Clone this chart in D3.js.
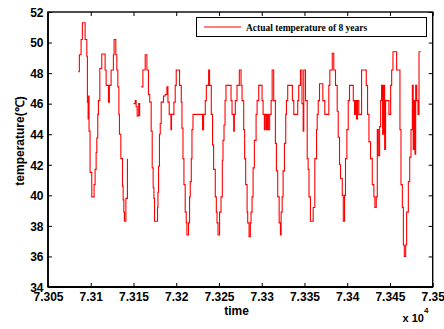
<!DOCTYPE html>
<html>
<head>
<meta charset="utf-8">
<script src="https://cdn.jsdelivr.net/npm/d3@7"></script>
<style>
  html, body { margin:0; padding:0; background:#fff; }
  svg { display:block; }
</style>
</head>
<body>
<div id="chart"></div>
<script>
// temperature series, x in raw units (axis shows x 10^4), null = missing
const TIME = [
  73085.5,73086.7,73088.7,73090.2,73093.4,73095.4,73096.1,73096.9,73097.5,73098.0,
  73099.2,73101.2,73103.9,73105.1,73106.3,73107.1,73108.2,73109.0,73110.6,73112.9,
  73116.8,73118.0,73120.7,73121.8,73123.8,73126.5,73127.3,73129.3,73130.5,73131.7,
  73132.9,73133.6,73135.2,73137.1,73137.9,73138.7,73139.4,73141.1,73142.9,73145.0,
  73150.0,73152.0,73153.1,73154.3,73156.1,73157.2,73158.0,
  73159.0,73161.0,73163.7,73165.7,73167.5,73169.0,73170.7,73171.9,73173.0,73173.9,
  73174.6,73178.1,73178.6,73179.3,73180.4,73181.3,73182.4,73185.1,73187.1,73189.1,
  73190.3,73191.8,73193.8,73194.5,73197.3,73198.8,73200.0,73203.9,73205.9,73206.7,
  73207.9,73209.0,73210.5,73211.7,73212.5,73214.4,73215.6,73216.4,73217.6,73218.4,
  73219.6,73230.8,73232.0,73234.0,73235.2,73237.9,73239.0,73241.0,73242.5,73243.7,
  73245.7,73246.9,73247.7,73248.9,73250.7,73252.4,73253.9,73254.7,73255.9,73257.1,
  73258.2,73264.1,73265.3,73267.2,73268.0,73269.1,73271.1,73273.8,73275.8,73277.0,
  73278.9,73280.0,73281.2,73282.9,73283.6,73285.2,73286.7,73287.5,73288.7,73289.9,
  73291.4,73293.4,73294.6,73296.5,73300.4,73301.6,73303.1,73304.0,73305.5,73306.6,
  73307.8,73309.3,73311.0,73312.2,73314.0,73316.0,73317.2,73318.7,73320.4,73321.9,
  73322.7,73323.9,73325.0,73326.6,73328.1,73328.9,73330.4,73335.9,73337.5,73342.1,
  73343.3,73345.3,73347.1,73348.5,73349.2,73351.2,73353.2,73354.3,73355.3,73357.0,
  73360.2,73362.1,73364.1,73364.9,73366.1,73367.6,73371.5,73373.8,73378.5,73379.7,
  73382.5,73384.3,73386.3,73388.3,73389.5,73391.0,73392.2,73394.2,73395.4,73396.9,
  73398.0,73399.6,73401.2,73402.7,73407.1,73408.6,73409.8,73410.9,73412.1,73413.6,
  73416.8,73422.3,73423.8,73425.4,73427.3,73429.3,73431.2,73432.4,73434.0,73435.2,
  73436.4,73437.9,73439.1,73440.2,73441.4,73442.6,73443.8,73444.9,73446.9,73448.8,
  73450.8,73452.0,73453.5,73457.8,73461.7,73462.9,73464.5,73465.7,73466.8,73468.4,
  73469.5,73471.5,73473.1,73474.6,73476.2,73477.2,73478.3,73479.3,73480.1,73481.3,
  73482.8,73484.0,73485.9
];
const TEMP = [
  48.1,49.2,50.2,51.3,50.2,49.1,46.1,45.0,46.5,44.2,
  41.5,39.9,40.7,41.7,42.8,43.75,45.3,46.2,48.3,49.25,
  48.2,47.2,46.1,47.2,48.2,49.2,50.2,49.2,48.2,47.1,
  45.3,44.0,42.4,40.6,39.7,38.9,38.3,39.8,42.4,null,
  46.0,46.2,45.8,45.2,46.0,45.2,null,
  47.1,48.2,49.2,48.2,46.6,46.1,44.2,41.8,40.5,39.8,
  38.3,39.2,40.2,41.9,44.0,44.7,46.1,46.5,46.6,47.1,
  46.1,45.3,44.3,45.3,46.1,47.2,48.2,47.2,46.1,44.4,
  42.4,40.7,38.9,38.2,37.4,38.2,39.9,40.9,42.4,44.3,
  45.3,44.3,45.3,46.2,47.2,48.2,47.2,45.3,43.3,41.7,
  39.9,38.9,38.2,37.4,38.9,39.9,42.3,43.6,44.6,46.2,
  47.2,46.2,45.3,44.2,45.3,46.2,47.2,48.2,47.2,46.2,
  44.3,42.4,40.7,38.9,38.2,37.3,38.2,38.9,39.9,41.8,
  43.6,45.3,46.2,47.2,46.2,45.3,44.3,45.3,44.3,45.3,
  44.3,45.3,46.2,48.2,46.2,43.4,41.6,39.9,38.2,37.4,
  38.9,39.9,41.6,43.4,45.3,46.2,47.2,46.2,45.3,46.2,
  47.2,48.2,46.0,44.2,48.2,46.2,42.4,41.7,39.9,38.3,
  39.2,42.4,44.3,45.3,46.2,47.3,46.2,45.3,47.2,48.2,
  49.3,48.2,47.2,45.5,43.8,42.0,41.1,40.0,38.3,40.0,
  42.4,44.3,46.2,47.2,46.2,45.3,46.2,45.0,46.2,45.3,
  48.2,47.2,45.3,43.5,42.4,40.7,39.9,39.2,39.9,44.3,
  42.6,44.5,46.2,47.2,44.0,47.2,43.0,46.2,46.2,45.3,
  47.2,48.2,49.4,48.2,44.3,40.7,39.2,36.75,36.0,36.75,
  38.9,40.9,42.5,44.3,47.2,43.0,46.2,42.7,47.2,46.2,
  45.3,49.4,49.4
];
const X_TICKS = [73050,73100,73150,73200,73250,73300,73350,73400,73450,73500];
const Y_TICKS = [34,36,38,40,42,44,46,48,50,52];
const LEGEND_LABEL = "Actual temperature of 8 years";

const W = 444, H = 329;
const margin = { top: 12, right: 11.3, bottom: 42, left: 48 };
const iw = W - margin.left - margin.right;
const ih = H - margin.top - margin.bottom;

const svg = d3.select("#chart").append("svg")
  .attr("width", W).attr("height", H);

const g = svg.append("g").attr("transform", `translate(${margin.left},${margin.top})`);

const x = d3.scaleLinear().domain([73050, 73500]).range([0, iw]);
const y = d3.scaleLinear().domain([34, 52]).range([ih, 0]);

const FONT = "Arial, 'Liberation Sans', Helvetica, sans-serif";

const series = TIME.map((t, i) => ({ t, v: TEMP[i] }));

// data line
g.append("path")
  .datum(series)
  .attr("fill", "none")
  .attr("stroke", "#ff0000")
  .attr("stroke-width", 1.1)
  .attr("d", d3.line()
    .defined(d => d.v !== null)
    .x(d => x(d.t)).y(d => y(d.v))
    .curve(d3.curveStepAfter));

const fmtX = d => d3.format(".4~f")(d / 1e4);

const styleAxis = sel => sel
  .call(a => a.select(".domain").remove())
  .call(a => a.selectAll("line").attr("stroke", "#000").attr("stroke-width", 1))
  .call(a => a.selectAll("text").attr("fill", "#000")
    .style("font-family", FONT).style("font-size", "12px").style("font-weight", "bold"));

// bottom + left with labels, ticks inward
g.append("g").attr("transform", `translate(0,${ih})`)
  .call(d3.axisBottom(x).tickValues(X_TICKS).tickFormat(fmtX).tickSizeInner(-4).tickSizeOuter(0).tickPadding(5))
  .call(styleAxis);

g.append("g")
  .call(d3.axisLeft(y).tickValues(Y_TICKS).tickFormat(d3.format("d")).tickSizeInner(-4).tickSizeOuter(0).tickPadding(4.5))
  .call(styleAxis)
  .call(a => a.selectAll("text").attr("dy", "0.36em"));

// top + right ticks only
g.append("g")
  .call(d3.axisTop(x).tickValues(X_TICKS).tickFormat("").tickSizeInner(-4).tickSizeOuter(0))
  .call(styleAxis);
g.append("g").attr("transform", `translate(${iw},0)`)
  .call(d3.axisRight(y).tickValues(Y_TICKS).tickFormat("").tickSizeInner(-4).tickSizeOuter(0))
  .call(styleAxis);

// frame
g.append("rect").attr("width", iw).attr("height", ih)
  .attr("fill", "none").attr("stroke", "#000").attr("stroke-width", 1.4);
g.append("line").attr("x1", 0).attr("x2", iw).attr("y1", ih).attr("y2", ih)
  .attr("stroke", "#000").attr("stroke-width", 2);
g.append("line").attr("x1", 0).attr("x2", 0).attr("y1", 0).attr("y2", ih)
  .attr("stroke", "#000").attr("stroke-width", 1.6);

// axis titles
svg.append("text").attr("x", 236.5).attr("y", 315)
  .attr("text-anchor", "middle").attr("fill", "#000")
  .style("font-family", FONT).style("font-size", "12px").style("font-weight", "bold")
  .text("time");

svg.append("text")
  .attr("transform", "translate(24,141) rotate(-90)")
  .attr("text-anchor", "middle").attr("fill", "#000")
  .style("font-family", FONT).style("font-size", "12px").style("font-weight", "bold")
  .text("temperature(\u2103)");

const exp = svg.append("text").attr("x", 402.5).attr("y", 322)
  .attr("fill", "#000")
  .style("font-family", FONT).style("font-size", "11px").style("font-weight", "bold");
exp.append("tspan").text("x 10");
exp.append("tspan").attr("dy", -9).style("font-size", "8px").text("4");

// legend
const lg = svg.append("g");
lg.append("rect").attr("x", 196.5).attr("y", 17.5).attr("width", 230).attr("height", 19)
  .attr("fill", "#fff").attr("stroke", "#000").attr("stroke-width", 1);
lg.append("line").attr("x1", 204).attr("x2", 241).attr("y1", 27).attr("y2", 27)
  .attr("stroke", "#ff0000").attr("stroke-width", 1.1);
lg.append("text").attr("x", 246).attr("y", 30.5)
  .attr("fill", "#000")
  .style("font-family", "'Liberation Serif', 'Times New Roman', serif")
  .style("font-size", "9.5px").style("font-weight", "bold")
  .text(LEGEND_LABEL);
</script>
</body>
</html>
